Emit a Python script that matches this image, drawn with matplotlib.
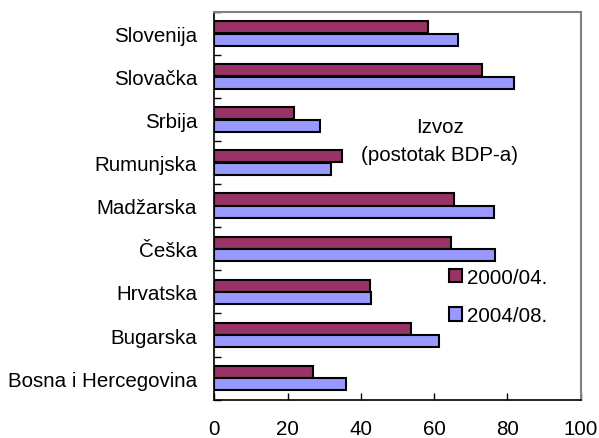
import numpy as np
import matplotlib
matplotlib.use('Agg')
import matplotlib.pyplot as plt

# podaci (izvoz, postotak BDP-a)
zemlje = ['Bosna i Hercegovina', 'Bugarska', 'Hrvatska', 'Češka', 'Madžarska',
          'Rumunjska', 'Srbija', 'Slovačka', 'Slovenija']
izvoz_2000_04 = [27.0, 53.7, 42.5, 64.5, 65.4, 34.9, 21.7, 73.0, 58.2]
izvoz_2004_08 = [35.8, 61.3, 42.8, 76.6, 76.2, 31.7, 28.8, 81.9, 66.6]
xticks = [0, 20, 40, 60, 80, 100]

plt.rcParams['font.family'] = ['Liberation Sans', 'DejaVu Sans']
plt.rcParams['font.size'] = 14.8

fig = plt.figure(figsize=(5.99, 4.39), dpi=100)
ax = fig.add_axes([0.358, 0.0872, 0.6115, 0.8838])

y = np.arange(len(zemlje))
h = 0.28
ax.barh(y + 0.145, izvoz_2000_04, height=h, color='#993366', edgecolor='black',
        linewidth=1.5, label='2000/04.')
ax.barh(y - 0.145, izvoz_2004_08, height=h, color='#9999ff', edgecolor='black',
        linewidth=1.5, label='2004/08.')

ax.set_xlim(0, 100)
ax.set_ylim(-0.5, len(zemlje) - 0.5)
ax.set_xticks(xticks)
ax.set_yticks(y)
ax.set_yticklabels(zemlje)
ax.set_yticks(np.arange(len(zemlje) + 1) - 0.5, minor=True)

ax.tick_params(axis='y', which='major', length=0, pad=12.5)
ax.tick_params(axis='y', which='minor', direction='in', length=5, width=1)
ax.tick_params(axis='x', direction='in', length=5, width=1, pad=14)

for s in ['top', 'right']:
    ax.spines[s].set_color('#808080')
    ax.spines[s].set_linewidth(1.5)
for s in ['left', 'bottom']:
    ax.spines[s].set_color('black')
    ax.spines[s].set_linewidth(1.2)

ax.text(0.615, 0.668, 'Izvoz\n(postotak BDP-a)', transform=ax.transAxes,
        ha='center', va='center', linespacing=1.6)

ax.legend(loc='upper left', bbox_to_anchor=(0.64, 0.34), frameon=False,
          handlelength=0.65, handleheight=0.65, handletextpad=0.25,
          labelspacing=0.95, borderaxespad=0, borderpad=0)

fig.savefig('out.png', dpi=100)
